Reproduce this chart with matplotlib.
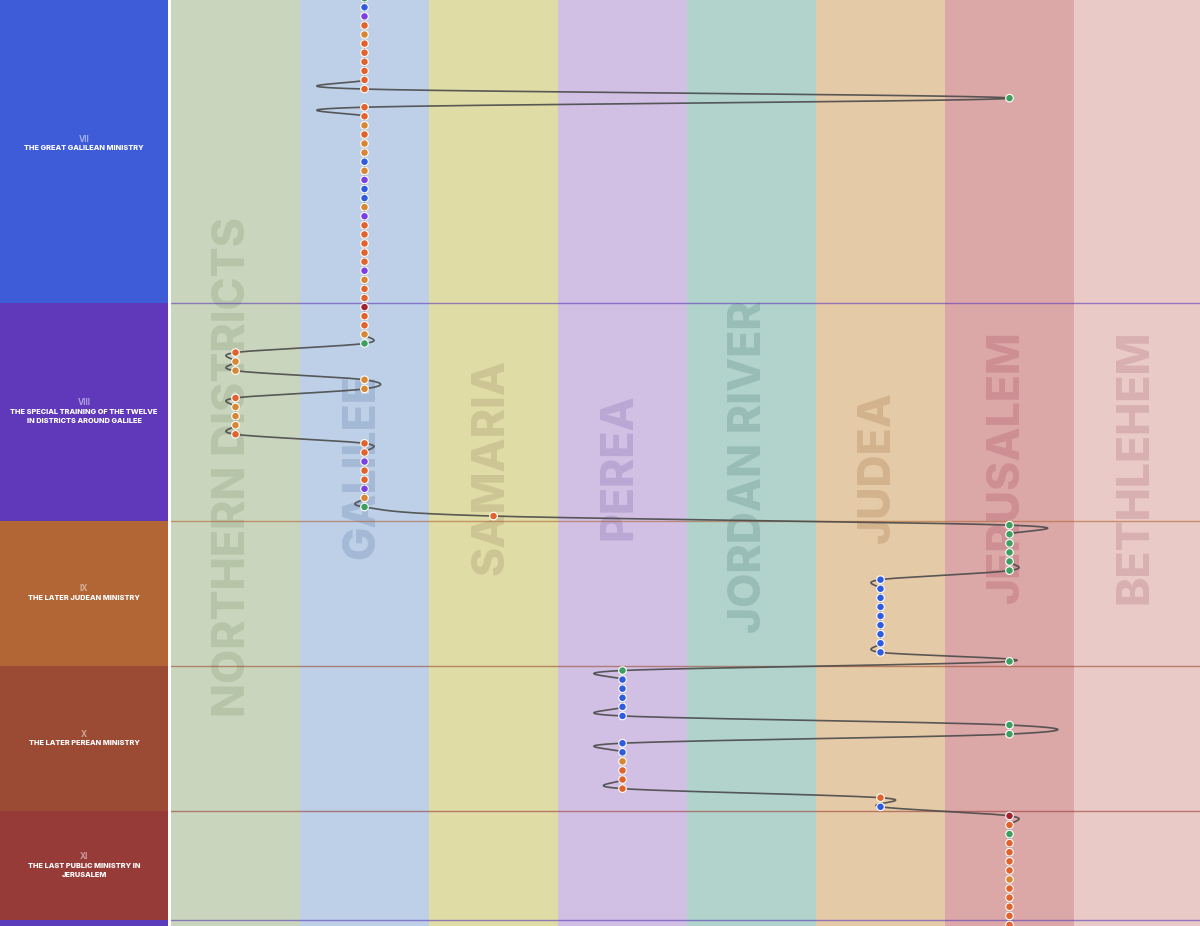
import matplotlib.pyplot as plt
import numpy as np

plt.rcParams['font.family'] = ['Inter', 'DejaVu Sans']

# regions (columns)
regions = ['NORTHERN DISTRICTS', 'GALILEE', 'SAMARIA', 'PEREA',
           'JORDAN RIVER', 'JUDEA', 'JERUSALEM', 'BETHLEHEM']
region_colors = ['#c9d6bd', '#bdd0e7', '#e0dca6', '#d1c0e4',
                 '#b1d3cb', '#e5caa7', '#dca7a7', '#eacac6']
label_colors = ['#b6c4a8', '#a4b9d6', '#cdc694', '#baa7d4',
                '#98bdb6', '#d2b38e', '#cd8f93', '#d9b0b2']

# sections of the life of Jesus (row boundaries)
section_numerals = ['VII', 'VIII', 'IX', 'X', 'XI', '']
section_titles = ['THE GREAT GALILEAN MINISTRY',
                  'THE SPECIAL TRAINING OF THE TWELVE\nIN DISTRICTS AROUND GALILEE',
                  'THE LATER JUDEAN MINISTRY',
                  'THE LATER PEREAN MINISTRY',
                  'THE LAST PUBLIC MINISTRY IN\nJERUSALEM',
                  '']
section_start = [-1.5, 33.5, 57.5, 73.5, 89.5, 101.5]
section_end = [33.5, 57.5, 73.5, 89.5, 101.5, 115]
section_colors = ['#3e5bd8', '#5f39b9', '#b26535', '#9b4a33', '#973b38', '#5b3dbb']

# events in order: where each one happened
event_region = (['GALILEE'] * 11 + ['JERUSALEM'] + ['GALILEE'] * 27 +
                ['NORTHERN DISTRICTS'] * 3 + ['GALILEE'] * 2 +
                ['NORTHERN DISTRICTS'] * 5 + ['GALILEE'] * 8 + ['SAMARIA'] +
                ['JERUSALEM'] * 6 + ['JUDEA'] * 9 + ['JERUSALEM'] +
                ['PEREA'] * 6 + ['JERUSALEM'] * 2 + ['PEREA'] * 6 +
                ['JUDEA'] * 2 + ['JERUSALEM'] * 13)
# event type code: o=orange a=amber b=blue p=purple g=green r=dark red
event_type = list(''.join([
    'gbpoaoooooo', 'g', 'ooaoaabapbbapooooopaoorooag',
    'oaa', 'aa', 'oaaao', 'oopoopag', 'o',
    'gggggg', 'bbbbbbbbb', 'g',
    'gbbbbb', 'gg', 'bbaooo', 'ob',
    'rogooooaooooo']))
type_colors = {'o': '#e2622b', 'a': '#d98632', 'b': '#2f5be0',
               'p': '#7b3fe3', 'g': '#3c9e5f', 'r': '#a3222e'}

ylims = (102.12, 0.198)

fig = plt.figure(figsize=(12, 9.26), dpi=100, facecolor='white')

# left panel with section names
axl = fig.add_axes([0, 0, 168 / 1200, 1])
axl.set_xlim(0, 1)
axl.set_ylim(*ylims)
axl.axis('off')
for k in range(len(section_numerals)):
    axl.axhspan(section_start[k], section_end[k], color=section_colors[k], lw=0)
    if section_titles[k] == '':
        continue
    lines = section_titles[k].split('\n')
    c = (section_start[k] + section_end[k]) / 2
    n = len(lines)
    axl.text(0.5, c - n / 2, section_numerals[k], ha='center', va='center',
             fontsize=6, fontweight='bold', color='white', alpha=0.5)
    for j, line in enumerate(lines):
        axl.text(0.5, c - n / 2 + j + 1, line, ha='center', va='center',
                 fontsize=5.3, fontweight='heavy', color='white')

# main chart
ax = fig.add_axes([171 / 1200, 0, 1029 / 1200, 1])
ax.set_xlim(-0.5, 7.5 - 3 / 129)
ax.set_ylim(*ylims)
ax.axis('off')

for i, name in enumerate(regions):
    ax.axvspan(i - 0.5, i + 0.5, color=region_colors[i], lw=0, zorder=0)
    ax.text(i - 0.02, 51.6, name, rotation=90, ha='center', va='center',
            fontsize=32, fontweight='heavy', color=label_colors[i], zorder=1)

for k in range(1, len(section_start)):
    ax.axhline(section_start[k], color=section_colors[k], alpha=0.6, lw=1, zorder=2)

# path through the events (catmull-rom curve)
xs = np.array([regions.index(r) for r in event_region], dtype=float)
ys = np.arange(len(xs), dtype=float)
mx = np.zeros_like(xs)
mx[1:-1] = (xs[2:] - xs[:-2]) / 2
t = np.linspace(0, 1, 30)
h00 = 2 * t**3 - 3 * t**2 + 1
h10 = t**3 - 2 * t**2 + t
h01 = -2 * t**3 + 3 * t**2
h11 = t**3 - t**2
cx, cy = [], []
for i in range(len(xs) - 1):
    cx.append(h00 * xs[i] + h10 * mx[i] + h01 * xs[i + 1] + h11 * mx[i + 1])
    cy.append(ys[i] + t)
ax.plot(np.concatenate(cx), np.concatenate(cy), color='#4a4a4a', lw=1.2,
        alpha=0.9, zorder=3)

ax.scatter(xs, ys, s=30, c=[type_colors[e] for e in event_type],
           edgecolors='white', linewidths=0.8, zorder=4)

fig.savefig('out.png', dpi=100, facecolor='white')
